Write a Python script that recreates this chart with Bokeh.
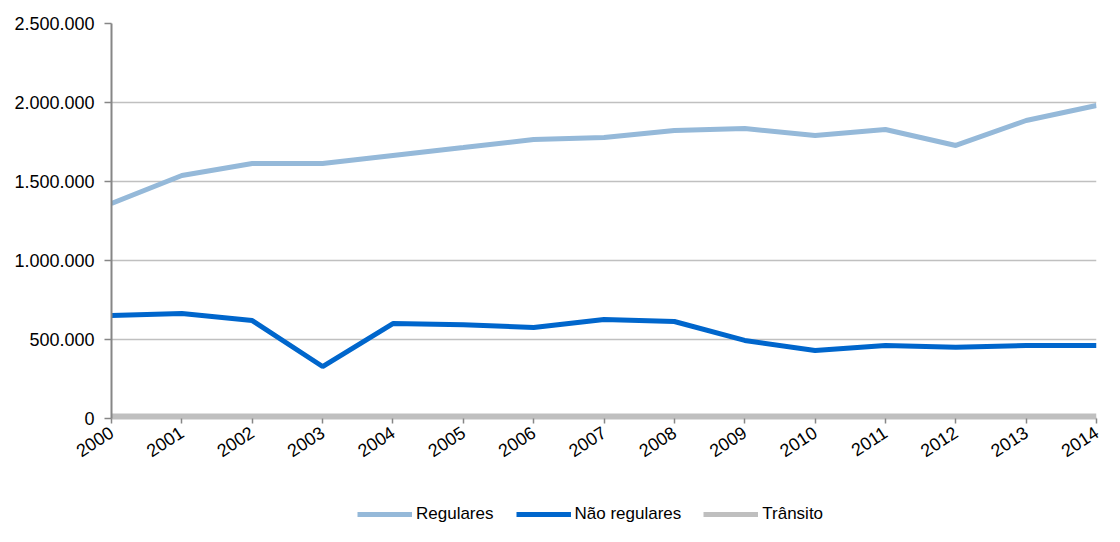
import math
from bokeh.plotting import figure
from bokeh.layouts import column
from bokeh.models import Legend, LegendItem, FixedTicker, CustomJSTickFormatter, Range1d
from bokeh.embed import file_html
from bokeh.resources import INLINE

years = list(range(2000, 2015))
year_labels = [str(y) for y in years]
regulares = [1361000, 1538000, 1614000, 1614000, 1665000, 1715000, 1766000, 1778000,
             1823000, 1835000, 1791000, 1829000, 1728000, 1886000, 1981000]
nao_regulares = [652000, 665000, 620000, 329000, 601000, 593000, 576000, 627000,
                 614000, 494000, 430000, 462000, 451000, 462000, 462000]
transito = [10000, 10000, 10000, 10000, 10000, 10000, 10000, 10000,
            10000, 10000, 10000, 10000, 10000, 10000, 10000]
y_ticks = [0, 500000, 1000000, 1500000, 2000000, 2500000]
series_names = ["Regulares", "Não regulares", "Trânsito"]
series_colors = ["#95B9D9", "#0066CC", "#BFBFBF"]
series_values = [regulares, nao_regulares, transito]
series_widths = [5, 5, 7]

FONT = "Liberation Sans"

p = figure(width=1104, height=475, output_backend="svg", toolbar_location=None,
           x_range=Range1d(2000, 2014), y_range=Range1d(0, 2500000),
           min_border_left=111, min_border_right=8, min_border_top=23,
           min_border_bottom=57)
p.outline_line_color = None
p.background_fill_color = "white"
p.border_fill_color = "white"

for i in [2, 0, 1]:
    p.line(years, series_values[i], line_color=series_colors[i], line_width=series_widths[i])

p.xgrid.grid_line_color = None
p.ygrid.grid_line_color = "#C0C0C0"
p.ygrid.grid_line_width = 1.5

p.yaxis.ticker = FixedTicker(ticks=y_ticks)
p.yaxis.formatter = CustomJSTickFormatter(
    code='return Math.round(tick).toString().replace(/\\B(?=(\\d{3})+(?!\\d))/g, ".");')
p.yaxis.major_label_text_font = FONT
p.yaxis.major_label_text_font_size = "18px"
p.yaxis.major_label_text_color = "#000000"
p.yaxis.axis_line_color = "#868686"
p.yaxis.axis_line_width = 2
p.yaxis.major_tick_line_color = "#868686"
p.yaxis.major_tick_line_width = 1.5
p.yaxis.major_tick_out = 7
p.yaxis.major_tick_in = 0
p.yaxis.minor_tick_line_color = None
p.yaxis.major_label_standoff = 10

p.xaxis.ticker = FixedTicker(ticks=years)
p.xaxis.major_label_overrides = {y: l for y, l in zip(years, year_labels)}
p.xaxis.major_label_orientation = math.radians(33)
p.xaxis.major_label_text_font = FONT
p.xaxis.major_label_text_font_size = "18px"
p.xaxis.major_label_text_color = "#000000"
p.xaxis.axis_line_color = "#BFBFBF"
p.xaxis.axis_line_width = 2
p.xaxis.major_tick_line_color = "#868686"
p.xaxis.major_tick_line_width = 1.5
p.xaxis.major_tick_out = 5
p.xaxis.major_tick_in = 0
p.xaxis.minor_tick_line_color = None
p.xaxis.major_label_standoff = 7

# legend strip below the chart (series drawn out of view; only the legend shows)
pl = figure(width=1104, height=51, output_backend="svg", toolbar_location=None,
            x_range=Range1d(0, 1), y_range=Range1d(0, 1), min_border=0)
pl.outline_line_color = None
pl.axis.visible = False
pl.grid.visible = False
items = []
for name, col, vals in zip(series_names, series_colors, series_values):
    r = pl.line(years, vals, line_color=col, line_width=5)
    items.append(LegendItem(label=name, renderers=[r]))
legend = Legend(items=items, orientation="horizontal", location=(246, 2))
legend.border_line_color = None
legend.background_fill_alpha = 0
legend.padding = 0
legend.margin = 0
legend.spacing = 22
legend.glyph_width = 55
legend.glyph_height = 16
legend.label_standoff = 4
legend.label_text_font = FONT
legend.label_text_font_size = "17px"
legend.label_text_color = "#000000"
pl.add_layout(legend, "center")

layout = column(p, pl, spacing=0)
open("out.html", "w").write(file_html(layout, INLINE))
